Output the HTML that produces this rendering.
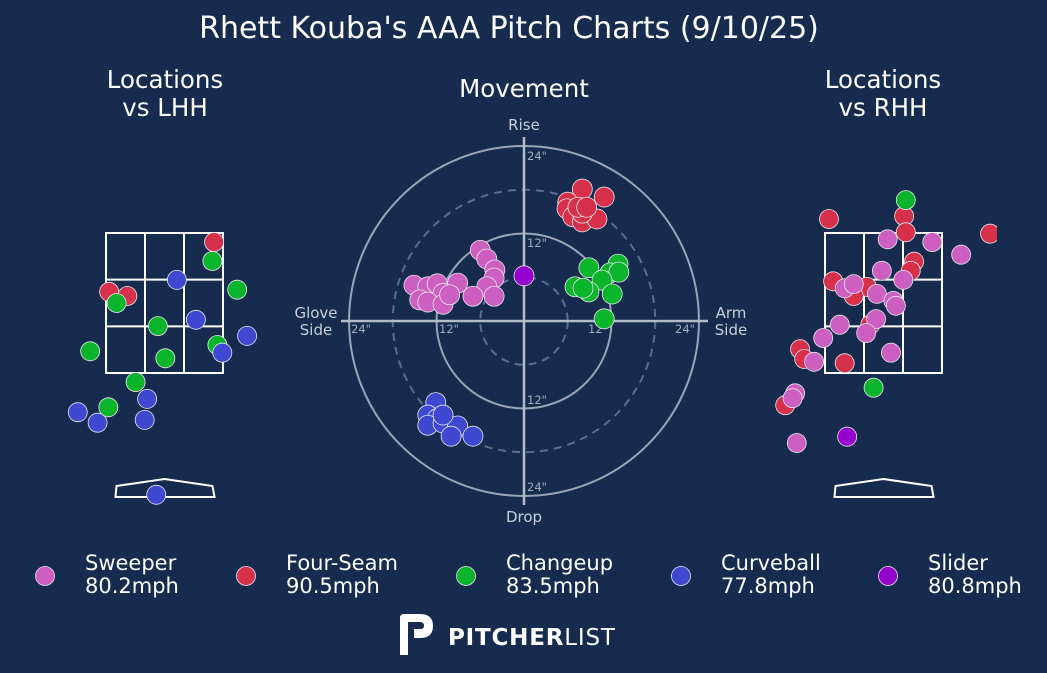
<!DOCTYPE html>
<html><head><meta charset="utf-8"><style>
html,body{margin:0;padding:0;background:#162b4d;}
svg{display:block;font-family:"DejaVu Sans","Liberation Sans",sans-serif;}
</style></head><body>
<svg id="chart" width="1047" height="673" viewBox="0 0 1047 673">
<rect width="1047" height="673" fill="#162b4d"/>
<defs><clipPath id="clipR"><rect x="700" y="130" width="297" height="420"/></clipPath></defs>
<text x="509" y="38" fill="#fff" font-size="30" text-anchor="middle">Rhett Kouba's AAA Pitch Charts (9/10/25)</text>
<text x="165" y="88" fill="#fff" font-size="24.5" text-anchor="middle">Locations</text>
<text x="165" y="116" fill="#fff" font-size="24.5" text-anchor="middle">vs LHH</text>
<text x="883" y="88" fill="#fff" font-size="24.5" text-anchor="middle">Locations</text>
<text x="883" y="116" fill="#fff" font-size="24.5" text-anchor="middle">vs RHH</text>
<text x="524" y="97" fill="#fff" font-size="24.5" text-anchor="middle">Movement</text>
<g id="mov"></g>
<g id="lhh"></g>
<g id="rhh" clip-path="url(#clipR)"></g>
<g id="legend"></g>
<g>
<path d="M400 655 V618 Q400 614 404 614 H420 Q433 614 433 626 Q433 638 420 638 H414 V629 H420 Q424 629 424 626 Q424 622 420 622 H408 V655 Z" fill="#fff"/>
<text x="448" y="645" fill="#fff" font-size="23" font-weight="bold" letter-spacing="0.8">PITCHER<tspan font-weight="normal">LIST</tspan></text>
</g>
</svg>
<script>
const NS="http://www.w3.org/2000/svg";
const colors={SW:"#cc5fc0",FF:"#d6304a",CH:"#0ab52c",CU:"#3f48d0",SL:"#9500cc"};
// Movement (inches): horizontal break, induced vertical break
const movSW_x=[-6.0,-5.1,-4.0,-4.1,-5.1,-4.1,-7.0,-9.1,-15.1,-13.2,-11.9,-11.1,-14.3,-13.2,-11.1,-10.2];
const movSW_y=[9.7,8.5,7.0,5.9,4.7,3.4,3.4,5.2,4.9,4.7,5.1,3.8,2.9,2.6,2.3,3.6];
const movFF_x=[8.0,11.0,6.0,5.9,6.7,8.0,10.0,8.0,7.4,8.6];
const movFF_y=[18.1,17.0,16.3,15.4,14.3,13.6,14.0,14.8,15.6,15.6];
const movCH_x=[8.9,12.9,11.8,13.0,10.7,7.0,8.9,12.1,11.0,8.1];
const movCH_y=[7.3,7.8,6.6,6.7,5.6,4.7,4.0,3.7,0.3,4.5];
const movCU_x=[-12.1,-13.2,-11.9,-13.2,-11.1,-9.1,-10.0,-7.0,-11.1];
const movCU_y=[-11.2,-12.9,-13.4,-14.3,-14.0,-14.4,-15.8,-15.8,-12.9];
const movSL_x=[0.0];
const movSL_y=[6.2];
// Locations vs LHH (feet): plate x, height z
const lhhFF_x=[0.60,-0.67,-0.45], lhhFF_z=[3.37,2.66,2.60];
const lhhCH_x=[0.58,-0.58,0.88,-0.08,0.01,0.64,-0.90,-0.35,-0.68];
const lhhCH_z=[3.10,2.50,2.69,2.17,1.71,1.90,1.81,1.37,1.01];
const lhhCU_x=[0.15,0.38,1.00,0.70,-0.21,-1.05,-0.81,-0.24,-0.10];
const lhhCU_z=[2.83,2.26,2.03,1.79,1.13,0.94,0.79,0.83,-0.24];
// Locations vs RHH
const rhhCH_x=[0.27,-0.12], rhhCH_z=[3.97,1.29];
const rhhFF_x=[-0.66,0.25,0.27,0.37,0.33,-0.61,-0.20,-0.36,-0.16,-1.01,-0.96,-0.47,-1.19,1.29];
const rhhFF_z=[3.70,3.74,3.51,3.09,2.96,2.81,2.73,2.60,2.19,1.84,1.70,1.64,1.04,3.49];
const rhhSW_x=[0.05,0.59,0.94,-0.02,0.24,-0.47,-0.36,-0.08,0.12,0.15,-0.09,-0.53,-0.21,-0.73,-0.84,0.09,-1.07,-1.10,-1.05];
const rhhSW_z=[3.41,3.37,3.19,2.96,2.83,2.71,2.77,2.63,2.53,2.46,2.27,2.19,2.07,2.00,1.66,1.79,1.21,1.14,0.50];
const rhhSL_x=[-0.44], rhhSL_z=[0.59];
const legendNames=["Sweeper","Four-Seam","Changeup","Curveball","Slider"];
const legendSpeeds=["80.2mph","90.5mph","83.5mph","77.8mph","80.8mph"];
const legendKeys=["SW","FF","CH","CU","SL"];

function el(tag,attrs,parent){const e=document.createElementNS(NS,tag);for(const k in attrs)e.setAttribute(k,attrs[k]);parent.appendChild(e);return e;}
const mcx=524,mcy=321,ppi=7.29;
const mx=v=>mcx+v*ppi, my=v=>mcy-v*ppi;
const mov=document.getElementById('mov');
[[24,false],[18,true],[12,false],[6,true]].forEach(([r,d])=>{
 const c=el('circle',{cx:mcx,cy:mcy,r:r*ppi,fill:'none',stroke:d?'#5d6e8c':'#9aa5b8','stroke-width':2,'stroke-dasharray':d?'8,6':'none'},mov);
 
 
});
el('line',{x1:341,y1:mcy,x2:708,y2:mcy,stroke:'#b3bccb','stroke-width':2.5},mov);
el('line',{x1:mcx,y1:137,x2:mcx,y2:505,stroke:'#b3bccb','stroke-width':2.5},mov);
const lab=(x,y,t,s,c,a,n)=>{const e=el('text',{x:x,y:y,fill:c,'font-size':s,'text-anchor':a||'start'},mov);e.textContent=t;};
lab(524,130,'Rise',15,'#c8cfdb','middle','rise-label');
lab(524,522,'Drop',15,'#c8cfdb','middle','drop-label');
lab(316,318,'Glove',15,'#c8cfdb','middle','glove-label');
lab(316,335,'Side',15,'#c8cfdb','middle','glove-label-2');
lab(731,318,'Arm',15,'#c8cfdb','middle','arm-label');
lab(731,335,'Side',15,'#c8cfdb','middle','arm-label-2');
lab(527,160,'24"',11.5,'#a4adbd','start','tick-24-top');
lab(527,247,'12"',11.5,'#a4adbd','start','tick-12-top');
lab(527,404,'12"',11.5,'#a4adbd','start','tick-12-bottom');
lab(527,491,'24"',11.5,'#a4adbd','start','tick-24-bottom');
lab(351,333,'24"',11.5,'#a4adbd','start','tick-24-left');
lab(439,333,'12"',11.5,'#a4adbd','start','tick-12-left');
lab(588,333,'12"',11.5,'#a4adbd','start','tick-12-right');
lab(675,333,'24"',11.5,'#a4adbd','start','tick-24-right');
function dots(g,xs,ys,fx,fy,key,r,name){xs.forEach((v,i)=>{const c=el('circle',{cx:fx(v),cy:fy(ys[i]),r:r,fill:colors[key],stroke:'#e8e8f0','stroke-width':0.8},g);});}
dots(mov,movSW_x,movSW_y,mx,my,'SW',10,'movement-sweeper-point');
dots(mov,movFF_x,movFF_y,mx,my,'FF',10,'movement-fourseam-point');
dots(mov,movCH_x,movCH_y,mx,my,'CH',10,'movement-changeup-point');
dots(mov,movCU_x,movCU_y,mx,my,'CU',10,'movement-curveball-point');
dots(mov,movSL_x,movSL_y,mx,my,'SL',10,'movement-slider-point');
function zone(g,cx,side){
 const fx=v=>cx+v*82.6, fz=v=>373-(v-1.5)*70;
 const x0=fx(-0.708),x1=fx(0.708),y0=fz(3.5),y1=fz(1.5);
 const w=(x1-x0)/3,h=(y1-y0)/3;
 const r=el('rect',{x:x0,y:y0,width:x1-x0,height:y1-y0,fill:'none',stroke:'#fff','stroke-width':2},g);
 
 for(let i=1;i<3;i++){el('line',{x1:x0+w*i,y1:y0,x2:x0+w*i,y2:y1,stroke:'#fff','stroke-width':2},g);el('line',{x1:x0,y1:y0+h*i,x2:x1,y2:y0+h*i,stroke:'#fff','stroke-width':2},g);}
 const p=el('path',{d:`M${cx-49} 497 L${cx+50} 497 L${cx+48} 486 L${cx} 479 L${cx-48} 486 Z`,fill:'none',stroke:'#fff','stroke-width':2},g);
 
 return [fx,fz];
}
const L=document.getElementById('lhh'),R=document.getElementById('rhh');
const [lx,lz]=zone(L,164.5,'lhh');
dots(L,lhhFF_x,lhhFF_z,lx,lz,'FF',9.5,'lhh-fourseam-point');
dots(L,lhhCH_x,lhhCH_z,lx,lz,'CH',9.5,'lhh-changeup-point');
dots(L,lhhCU_x,lhhCU_z,lx,lz,'CU',9.5,'lhh-curveball-point');
const [rx,rz]=zone(R,883.5,'rhh');
dots(R,rhhFF_x,rhhFF_z,rx,rz,'FF',9.5,'rhh-fourseam-point');
dots(R,rhhSW_x,rhhSW_z,rx,rz,'SW',9.5,'rhh-sweeper-point');
dots(R,rhhCH_x,rhhCH_z,rx,rz,'CH',9.5,'rhh-changeup-point');
dots(R,rhhSL_x,rhhSL_z,rx,rz,'SL',9.5,'rhh-slider-point');
const lg=document.getElementById('legend');
const lxs=[45,246,466,681,888];
legendKeys.forEach((k,i)=>{
 const c=el('circle',{cx:lxs[i],cy:576,r:9.5,fill:colors[k],stroke:'#e8e8f0','stroke-width':0.8},lg);
 
 const t=el('text',{x:lxs[i]+40,y:570,fill:'#fff','font-size':21},lg);t.textContent=legendNames[i];
 
 const s=el('text',{x:lxs[i]+40,y:593,fill:'#fff','font-size':21},lg);s.textContent=legendSpeeds[i];
 
});
</script>
</body></html>
